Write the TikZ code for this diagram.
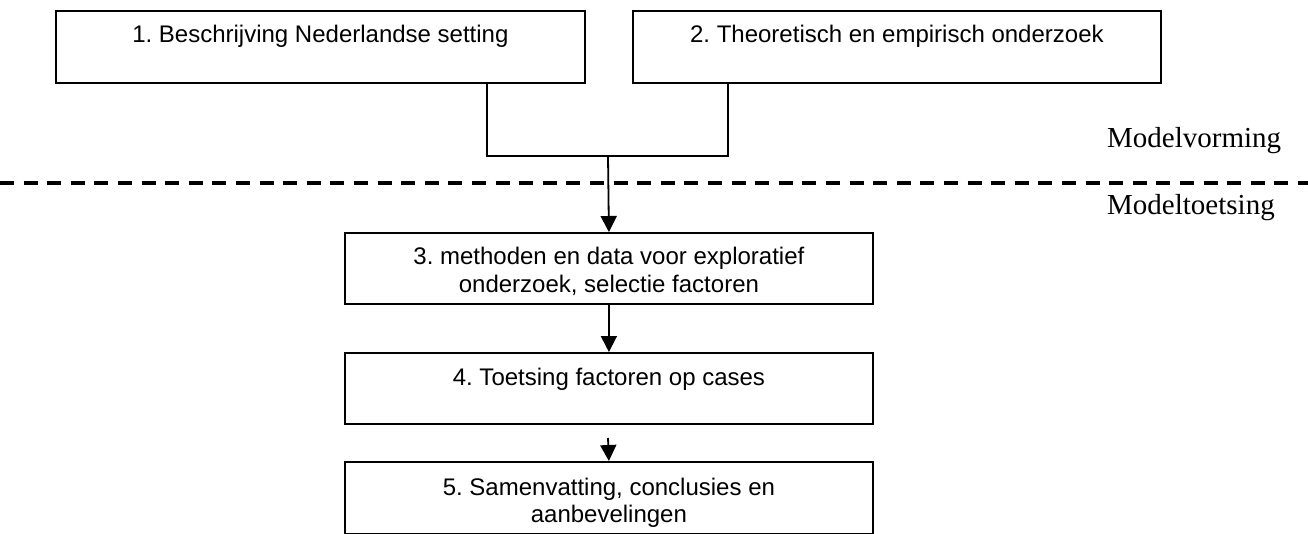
\documentclass[tikz,border=0pt]{standalone}
\usepackage{fontspec}
\setmainfont{Liberation Serif}
\newfontfamily\arialfont{Liberation Sans}
\usetikzlibrary{arrows.meta}
\frenchspacing
\begin{document}
\begin{tikzpicture}[x=1pt,y=-1pt,
  box/.style={draw, line width=1.8pt, inner sep=0pt, anchor=north west},
  boxtext/.style={anchor=base, align=center, font=\arialfont\fontsize{24}{27.6}\selectfont, inner sep=0pt},
  phase/.style={anchor=base west, font=\fontsize{29}{33}\selectfont, inner sep=0pt},
  conn/.style={line width=1.8pt},
  arr/.style={line width=1.8pt, -{Triangle[length=16pt,width=16pt]}},
  divider/.style={line width=3.5pt, dash pattern=on 14pt off 9.6pt}]
\useasboundingbox (0,0) rectangle (1308,534);
% boxes
\node[box, minimum width=529pt, minimum height=72pt] (b1) at (55,10) {};
\node[box, minimum width=528pt, minimum height=72pt] (b2) at (632,10) {};
\node[box, minimum width=528pt, minimum height=71pt] (b3) at (344,232) {};
\node[box, minimum width=528pt, minimum height=71pt] (b4) at (344,352) {};
\node[box, minimum width=528pt, minimum height=72pt] (b5) at (344,461) {};
% texts
\node[boxtext] (t1) at ([yshift=-33pt]b1.north) {1. Beschrijving Nederlandse setting};
\node[boxtext] (t2) at ([yshift=-33pt]b2.north) {2. Theoretisch en empirisch onderzoek};
\node[boxtext] (t3) at ([yshift=-60.6pt]b3.north) {3. methoden en data voor exploratief\\onderzoek, selectie factoren};
\node[boxtext] (t4) at ([yshift=-33pt]b4.north) {4. Toetsing factoren op cases};
\node[boxtext] (t5) at ([yshift=-61.6pt]b5.north) {5. Samenvatting, conclusies en\\aanbevelingen};
% phase labels and divider
\node[phase] (mv) at (1107,148) {Modelvorming};
\node[phase] (mt) at (1107,215) {Modeltoetsing};
\coordinate (dl) at (0,183);
\coordinate (dr) at (1308,183);
\draw[divider] (dl) -- (dr);
% connectors
\coordinate (j) at (608,156);
\draw[conn] ([xshift=432pt]b1.south west) |- (j) -| ([xshift=96pt]b2.south west);
\draw[arr] (j) -- (b3.north);
\draw[arr] (b3.south) -- (b4.north);
\coordinate (s5) at (608,438);
\draw[arr] (s5) -- (b5.north);
\end{tikzpicture}
\end{document}
